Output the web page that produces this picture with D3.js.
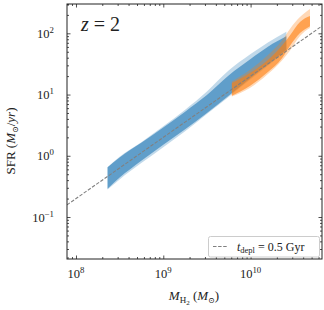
<!DOCTYPE html>
<html>
<head>
<meta charset="utf-8">
<script src="https://cdn.jsdelivr.net/npm/d3@7"></script>
<style>
  body { margin: 0; background: #fff; }
  svg { display: block; font-family: "Liberation Serif", "DejaVu Serif", serif; }
</style>
</head>
<body>
<svg id="chart"></svg>
<script>
// blue sample: M_H2 (Msun) with outer / inner percentile bands of SFR (Msun/yr)
const blueMass = [2.3e8, 3.16e8, 5.6e8, 1.0e9, 1.78e9, 3.16e9, 5.6e9, 1.0e10, 1.58e10, 2.57e10];
const blueOuterHi = [0.65, 0.96, 1.66, 3.03, 5.64, 11.2, 24.6, 45.8, 71.0, 106];
const blueInnerHi = [0.65, 0.94, 1.63, 2.89, 5.26, 9.8, 20.5, 38.1, 60.4, 89.3];
const blueInnerLo = [0.29, 0.44, 0.83, 1.52, 2.70, 5.02, 9.57, 18.7, 31.0, 53.8];
const blueOuterLo = [0.28, 0.41, 0.76, 1.38, 2.52, 4.80, 9.14, 17.8, 29.6, 51.4];

// orange sample
const orangeMass = [6.1e9, 9.8e9, 1.58e10, 2.29e10, 2.82e10, 3.68e10, 4.79e10];
const orangeOuterHi = [16.3, 25.1, 44.2, 76, 118, 184, 249];
const orangeInnerHi = [15.4, 22.4, 36.6, 63, 92, 153, 192];
const orangeInnerLo = [9.6, 13.8, 23.3, 39, 62, 101, 131];
const orangeOuterLo = [9.3, 12.8, 21.6, 36, 52, 90.4, 122];

const tDepl = 0.5e9; // yr
const xMajor = [1e8, 1e9, 1e10];
const xMajorExp = ["8", "9", "10"];
const yMajor = [1e-1, 1e0, 1e1, 1e2];
const yMajorExp = ["−1", "0", "1", "2"];

const width = 324, height = 310;
const m = { left: 67, right: 322, top: 4, bottom: 259 };

const svg = d3.select("#chart").attr("width", width).attr("height", height);

const x = d3.scaleLog().domain([10 ** 7.897, 10 ** 10.818]).range([m.left, m.right]);
const y = d3.scaleLog().domain([10 ** -1.686, 10 ** 2.479]).range([m.bottom, m.top]);

function minors(scale) {
  const [a, b] = scale.domain();
  const out = [];
  for (let e = Math.floor(Math.log10(a)); e <= Math.ceil(Math.log10(b)); e++) {
    for (let k = 2; k <= 9; k++) {
      const v = k * 10 ** e;
      if (v >= a && v <= b) out.push(v);
    }
  }
  return out;
}

svg.append("clipPath").attr("id", "clip")
  .append("rect").attr("x", m.left).attr("y", m.top)
  .attr("width", m.right - m.left).attr("height", m.bottom - m.top);

const plot = svg.append("g").attr("clip-path", "url(#clip)");

function band(mass, lo, hi, color, alpha) {
  const area = d3.area()
    .x((d, i) => x(mass[i]))
    .y0((d, i) => y(lo[i]))
    .y1((d, i) => y(hi[i]))
    .curve(d3.curveMonotoneX);
  plot.append("path")
    .datum(mass)
    .attr("d", area)
    .attr("fill", color)
    .attr("fill-opacity", alpha);
}

band(blueMass, blueOuterLo, blueOuterHi, "#1f77b4", 0.28);
band(blueMass, blueInnerLo, blueInnerHi, "#1f77b4", 0.6);
band(orangeMass, orangeOuterLo, orangeOuterHi, "#ff7f0e", 0.3);
band(orangeMass, orangeInnerLo, orangeInnerHi, "#ff7f0e", 0.6);

// depletion time line
plot.append("path")
  .datum(x.domain())
  .attr("d", d3.line().x(d => x(d)).y(d => y(d / tDepl)))
  .attr("fill", "none")
  .attr("stroke", "#808080")
  .attr("stroke-width", 1.1)
  .attr("stroke-dasharray", "3.5,1.6");

// ticks on all four sides, pointing inward
function ticks(axis, values, size, transform) {
  svg.append("g")
    .attr("transform", transform)
    .call(axis.tickValues(values).tickSize(-size).tickFormat(""))
    .call(g => g.select(".domain").remove())
    .call(g => g.selectAll("line").attr("stroke", "#222").attr("stroke-width", 0.8));
}
ticks(d3.axisBottom(x), xMajor, 3.5, `translate(0,${m.bottom})`);
ticks(d3.axisBottom(x), minors(x), 2, `translate(0,${m.bottom})`);
ticks(d3.axisTop(x), xMajor, 3.5, `translate(0,${m.top})`);
ticks(d3.axisTop(x), minors(x), 2, `translate(0,${m.top})`);
ticks(d3.axisLeft(y), yMajor, 3.5, `translate(${m.left},0)`);
ticks(d3.axisLeft(y), minors(y), 2, `translate(${m.left},0)`);
ticks(d3.axisRight(y), yMajor, 3.5, `translate(${m.right},0)`);
ticks(d3.axisRight(y), minors(y), 2, `translate(${m.right},0)`);

svg.append("rect")
  .attr("x", m.left).attr("y", m.top)
  .attr("width", m.right - m.left).attr("height", m.bottom - m.top)
  .attr("fill", "none").attr("stroke", "#222").attr("stroke-width", 1);

// tick labels 10^n
xMajor.forEach((v, i) => {
  const t = svg.append("text")
    .attr("x", x(v)).attr("y", 278)
    .attr("text-anchor", "middle")
    .attr("font-size", 12.5).attr("fill", "#222");
  t.append("tspan").text("10");
  t.append("tspan").attr("dy", -5).attr("font-size", 8.8).text(xMajorExp[i]);
});
yMajor.forEach((v, i) => {
  const t = svg.append("text")
    .attr("x", 54).attr("y", y(v) + 4.5)
    .attr("text-anchor", "end")
    .attr("font-size", 12.5).attr("fill", "#222");
  t.append("tspan").text("10");
  t.append("tspan").attr("dy", -5).attr("font-size", 8.8).text(yMajorExp[i]);
});

// axis titles
const xt = svg.append("text")
  .attr("x", 194).attr("y", 300)
  .attr("text-anchor", "middle").attr("font-size", 13).attr("fill", "#222");
xt.append("tspan").attr("font-style", "italic").text("M");
xt.append("tspan").attr("dy", 3).attr("font-size", 9).text("H");
xt.append("tspan").attr("dy", 1.5).attr("font-size", 7).text("2");
xt.append("tspan").attr("dy", -4.5).text(" (");
xt.append("tspan").attr("font-style", "italic").text("M");
xt.append("tspan").attr("dy", 3).attr("font-size", 8).text("⊙");
xt.append("tspan").attr("dy", -3).text(")");

const yt = svg.append("text")
  .attr("transform", "translate(15,141) rotate(-90)")
  .attr("text-anchor", "middle").attr("font-size", 13).attr("fill", "#222");
yt.append("tspan").text("SFR (");
yt.append("tspan").attr("font-style", "italic").text("M");
yt.append("tspan").attr("dy", 3).attr("font-size", 8).text("⊙");
yt.append("tspan").attr("dy", -3).text("/");
yt.append("tspan").attr("font-style", "italic").text("yr");
yt.append("tspan").text(")");

// redshift label
const zt = svg.append("text")
  .attr("x", 81).attr("y", 30.5)
  .attr("font-size", 20).attr("fill", "#222");
zt.append("tspan").attr("font-style", "italic").text("z");
zt.append("tspan").text(" = 2");

// legend
const lg = svg.append("g");
lg.append("rect")
  .attr("x", 208.5).attr("y", 236.5).attr("width", 111).attr("height", 20.5)
  .attr("rx", 2).attr("fill", "#fff").attr("stroke", "#ccc").attr("stroke-width", 1);
lg.append("line")
  .attr("x1", 213).attr("x2", 228).attr("y1", 246.5).attr("y2", 246.5)
  .attr("stroke", "#808080").attr("stroke-width", 1.1).attr("stroke-dasharray", "3.5,1.6");
const lt = lg.append("text")
  .attr("x", 237).attr("y", 250.5).attr("font-size", 12).attr("fill", "#222");
lt.append("tspan").attr("font-style", "italic").text("t");
lt.append("tspan").attr("dy", 2.5).attr("font-size", 8.5).text("depl");
lt.append("tspan").attr("dy", -2.5).text(" = 0.5 Gyr");
</script>
</body>
</html>
